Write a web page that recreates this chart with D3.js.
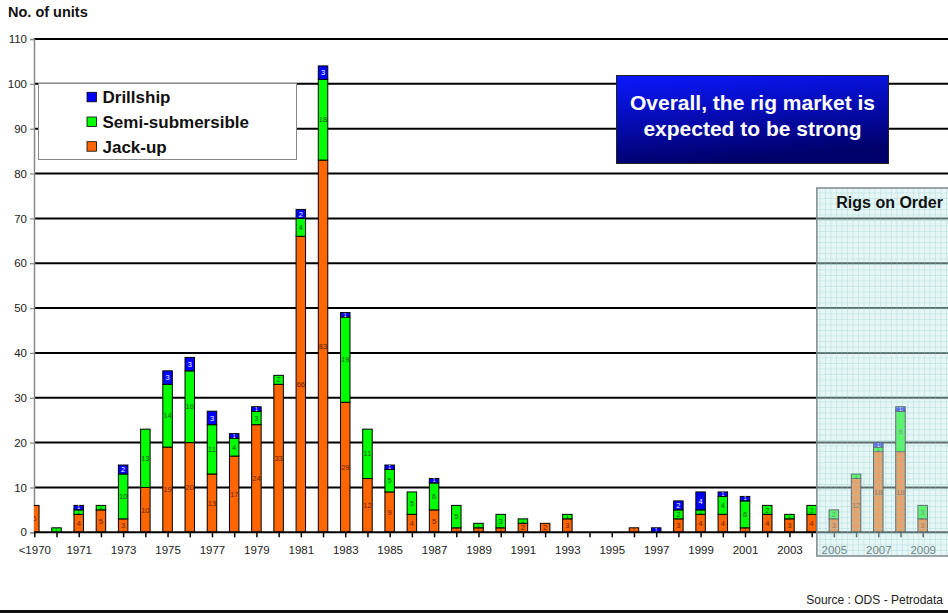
<!DOCTYPE html>
<html>
<head>
<meta charset="utf-8">
<script src="https://cdn.jsdelivr.net/npm/d3@7"></script>
<style>
  body { margin: 0; background: #fff; }
  svg { display: block; font-family: Arial, "Liberation Sans", Helvetica, sans-serif; }
</style>
</head>
<body>
<svg id="chart" width="948" height="613"></svg>
<script>
// Rig deliveries per year by rig type
const categories = ["<1970","1970","1971","1972","1973","1974","1975","1976","1977","1978",
  "1979","1980","1981","1982","1983","1984","1985","1986","1987","1988",
  "1989","1990","1991","1992","1993","1994","1995","1996","1997","1998",
  "1999","2000","2001","2002","2003","2004","2005","2006","2007","2008","2009"];
const jackUp    = [6,0,4,5,3,10,19,20,13,17,24,33,66,83,29,12,9,4,5,1,1,1,2,2,3,0,0,1,0,3,4,4,1,4,3,4,3,12,18,18,3];
const semiSub   = [0,1,1,1,10,13,14,16,11,4,3,2,4,18,19,11,5,5,6,5,1,3,1,0,1,0,0,0,0,2,1,4,6,2,1,2,2,1,1,9,3];
const drillship = [0,0,1,0,2,0,3,3,3,1,1,0,2,3,1,0,1,0,1,0,0,0,0,0,0,0,0,0,1,2,4,1,1,0,0,0,0,0,1,1,0];
const yTicks = [0,10,20,30,40,50,60,70,80,90,100,110];
const seriesNames = ["Jack-up","Semi-submersible","Drillship"];
const legendOrder = ["Drillship","Semi-submersible","Jack-up"];
const onOrderFrom = "2005";

const colors = { "Jack-up": "#ff6600", "Semi-submersible": "#00ff00", "Drillship": "#0000ff" };
const labelColors = { "Jack-up": "#5e1f00", "Semi-submersible": "#1a541a", "Drillship": "#ffffff" };

const svg = d3.select("#chart");
const W = 948;
const plotLeft = 34, plotRight = 948, plotTop = 39, plotBottom = 532.3;

const rows = categories.map((c, i) => ({
  cat: c, "Jack-up": jackUp[i], "Semi-submersible": semiSub[i], "Drillship": drillship[i]
}));
const stacked = d3.stack().keys(seriesNames)(rows);

const x = d3.scalePoint().domain(categories).range([34.3, 922.7]);
const barW = 9.5;
const y = d3.scaleLinear().domain([0, 110]).range([plotBottom, plotTop]);

const defs = svg.append("defs");
defs.append("clipPath").attr("id", "plotClip")
  .append("rect").attr("x", plotLeft).attr("y", 0).attr("width", plotRight - plotLeft).attr("height", 613);

const grad = defs.append("linearGradient").attr("id", "boxGrad")
  .attr("x1", "0").attr("y1", "0").attr("x2", "0.25").attr("y2", "1");
grad.append("stop").attr("offset", "0%").attr("stop-color", "#0a18ff");
grad.append("stop").attr("offset", "100%").attr("stop-color", "#00006a");

const pat = defs.append("pattern").attr("id", "orderGrid")
  .attr("patternUnits", "userSpaceOnUse").attr("width", 5.5).attr("height", 5.5);
pat.append("rect").attr("width", 5.5).attr("height", 5.5).attr("fill", "rgba(200,236,236,0.45)");
pat.append("path").attr("d", "M0 0.3H5.5M0.3 0V5.5")
  .attr("stroke", "rgba(140,200,200,0.5)").attr("stroke-width", 0.7);

// Axis title
svg.append("text").attr("x", 8).attr("y", 17)
  .attr("font-size", 14.5).attr("font-weight", "bold").attr("fill", "#111")
  .text("No. of units");

// Horizontal gridlines
svg.append("g").selectAll("line").data(yTicks.filter(d => d > 0)).join("line")
  .attr("x1", plotLeft).attr("x2", plotRight)
  .attr("y1", d => y(d)).attr("y2", d => y(d))
  .attr("stroke", "#000").attr("stroke-width", 2);

// Y axis
const yAxis = svg.append("g").attr("transform", `translate(${plotLeft},0)`)
  .call(d3.axisLeft(y).tickValues(yTicks).tickSize(4).tickPadding(3));
yAxis.select(".domain").attr("stroke", "#888").attr("stroke-width", 1.5);
yAxis.selectAll(".tick line").attr("stroke", "#888").attr("stroke-width", 1.2);
yAxis.selectAll(".tick text").attr("font-size", 11.5).attr("fill", "#222")
  .attr("font-family", "Arial, 'Liberation Sans', sans-serif");

// Stacked bars with value labels inside each segment
const plot = svg.append("g").attr("clip-path", "url(#plotClip)");
stacked.forEach(layer => {
  const name = layer.key;
  const g = plot.append("g");
  const segs = layer.filter(d => d[1] - d[0] > 0);
  g.selectAll("rect").data(segs).join("rect")
    .attr("x", d => x(d.data.cat) - barW / 2)
    .attr("width", barW)
    .attr("y", d => y(d[1]))
    .attr("height", d => y(d[0]) - y(d[1]))
    .attr("fill", colors[name])
    .attr("stroke", "#000").attr("stroke-width", 1);
  g.selectAll("text").data(segs).join("text")
    .attr("x", d => x(d.data.cat))
    .attr("font-size", d => Math.min(7.5, y(d[0]) - y(d[1]) + 0.5))
    .attr("y", d => (y(d[0]) + y(d[1])) / 2 + Math.min(7.5, y(d[0]) - y(d[1]) + 0.5) * 0.35)
    .attr("text-anchor", "middle")
    .attr("fill", labelColors[name])
    .text(d => d[1] - d[0]);
});

// X axis
const xAxis = svg.append("g").attr("transform", `translate(0,${plotBottom})`)
  .call(d3.axisBottom(x).tickSize(5).tickPadding(9)
    .tickFormat((d, i) => i % 2 === 0 ? d : ""));
xAxis.select(".domain").attr("d", `M${plotLeft},0H${plotRight}`)
  .attr("stroke", "#000").attr("stroke-width", 2);
xAxis.selectAll(".tick line").attr("stroke", "#000").attr("stroke-width", 1.5);
xAxis.selectAll(".tick text").attr("font-size", 11.5).attr("fill", "#222")
  .attr("font-family", "Arial, 'Liberation Sans', sans-serif");

// Rigs on order panel
const ox = x(onOrderFrom) - 17;
svg.append("rect").attr("x", ox).attr("y", 188)
  .attr("width", W - ox + 10).attr("height", 368)
  .attr("fill", "url(#orderGrid)")
  .attr("stroke", "#7d8a8a").attr("stroke-width", 1.5);
svg.append("text").attr("x", 943).attr("y", 208).attr("text-anchor", "end")
  .attr("font-size", 16).attr("font-weight", "bold").attr("fill", "#111")
  .text("Rigs on Order");

// Legend
const lg = svg.append("g");
lg.append("rect").attr("x", 38.5).attr("y", 83.5).attr("width", 258).attr("height", 76)
  .attr("fill", "#fff").attr("stroke", "#888").attr("stroke-width", 1);
legendOrder.forEach((name, i) => {
  const yy = 103.3 + i * 24.7;
  lg.append("rect").attr("x", 87).attr("y", yy - 11).attr("width", 9.5).attr("height", 9.5)
    .attr("fill", colors[name]).attr("stroke", "#000").attr("stroke-width", 0.8);
  lg.append("text").attr("x", 102.5).attr("y", yy)
    .attr("font-size", 17).attr("font-weight", "bold").attr("fill", "#111")
    .text(name);
});

// Headline box
const hb = svg.append("g");
hb.append("rect").attr("x", 616.5).attr("y", 75.5).attr("width", 272).attr("height", 88)
  .attr("fill", "url(#boxGrad)").attr("stroke", "#222").attr("stroke-width", 1);
["Overall, the rig market is", "expected to be strong"].forEach((t, i) => {
  hb.append("text").attr("x", 752.5).attr("y", 110 + i * 25.5)
    .attr("text-anchor", "middle").attr("font-size", 21).attr("font-weight", "bold")
    .attr("fill", "#fff").text(t);
});

// Source and bottom rule
svg.append("text").attr("x", 943).attr("y", 604).attr("text-anchor", "end")
  .attr("font-size", 12).attr("fill", "#222").text("Source : ODS - Petrodata");
svg.append("line").attr("x1", 0).attr("x2", W).attr("y1", 611.5).attr("y2", 611.5)
  .attr("stroke", "#111").attr("stroke-width", 3);
</script>
</body>
</html>
